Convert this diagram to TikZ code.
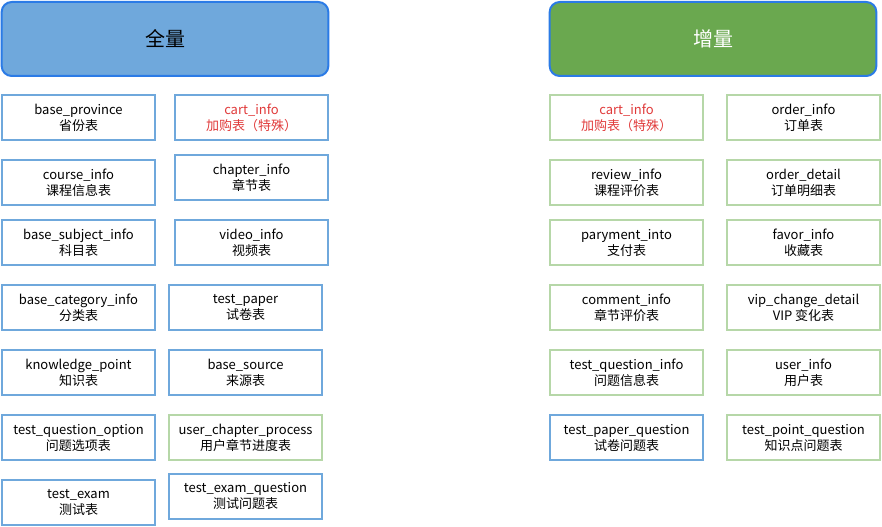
\documentclass[tikz,border=0pt]{standalone}
\usepackage{fontspec}
\setmainfont{Noto Sans CJK SC}
\usepackage{tikz}
\usetikzlibrary{positioning}
\definecolor{fullfill}{HTML}{6FA8DC}
\definecolor{incfill}{HTML}{6AA84F}
\definecolor{headline}{HTML}{2B7BE6}
\definecolor{fullline}{HTML}{6FA8DC}
\definecolor{incline}{HTML}{B6D7A8}
\definecolor{special}{HTML}{E03A3A}
\tikzset{
    head/.style={
           rectangle,
           rounded corners=7.5pt,
           draw=headline, line width=1.5pt,
           minimum width=245pt,
           minimum height=55.5pt,
           font=\fontsize{15}{18}\selectfont,
           },
    tbl/.style={
           rectangle,
           draw=fullline, line width=1.5pt,
           minimum width=114.75pt,
           minimum height=33.75pt,
           inner sep=0pt,
           align=center,
           font=\fontsize{9.75}{12}\selectfont,
           },
    tblinc/.style={tbl, draw=incline},
}

\begin{document}
\begin{tikzpicture}[x=0.75pt,y=-0.75pt]
      \useasboundingbox (0,0) rectangle (882,527);
      % headers
      \node[head,fill=fullfill] (full) at (165,39)  {全量};
      \node[head,fill=incfill,text=white] (inc) at (713,39) {增量};
      % full tables
      \node[tbl] (province)  at (78.5,117.5)  {base\_province\\省份表};
      \node[tbl,text=special] (cart_f) at (251.5,117.5) {cart\_info\\加购表（特殊）};
      \node[tbl] (course)    at (78.5,182.5)  {course\_info\\课程信息表};
      \node[tbl] (chapter)   at (251.5,177.5) {chapter\_info\\章节表};
      \node[tbl] (subject)   at (78.5,242.5)  {base\_subject\_info\\科目表};
      \node[tbl] (video)     at (251.5,242.5) {video\_info\\视频表};
      \node[tbl] (category)  at (78.5,307.5)  {base\_category\_info\\分类表};
      \node[tbl] (paper)     at (245.5,307.5) {test\_paper\\试卷表};
      \node[tbl] (knowledge) at (78.5,372.5)  {knowledge\_point\\知识表};
      \node[tbl] (source)    at (245.5,372.5) {base\_source\\来源表};
      \node[tbl] (option)    at (78.5,437.5)  {test\_question\_option\\问题选项表};
      \node[tblinc] (process) at (245.5,437.5) {user\_chapter\_process\\用户章节进度表};
      \node[tbl] (exam)      at (78.5,502.5)  {test\_exam\\测试表};
      \node[tbl] (exam_q)    at (245.5,496)   {test\_exam\_question\\测试问题表};
      % incremental tables
      \node[tblinc,text=special] (cart_i) at (626.5,117.5) {cart\_info\\加购表（特殊）};
      \node[tblinc] (order)    at (803.5,117.5) {order\_info\\订单表};
      \node[tblinc] (review)   [below=13.5pt of cart_i] {review\_info\\课程评价表};
      \node[tblinc] (detail)   [below=13.5pt of order]  {order\_detail\\订单明细表};
      \node[tblinc] (payment)  at (626.5,242.5) {paryment\_into\\支付表};
      \node[tblinc] (favor)    at (803.5,242.5) {favor\_info\\收藏表};
      \node[tblinc] (comment)  [below=13.5pt of payment] {comment\_info\\章节评价表};
      \node[tblinc] (vip)      [below=13.5pt of favor]   {vip\_change\_detail\\VIP 变化表};
      \node[tblinc] (question) [below=13.5pt of comment] {test\_question\_info\\问题信息表};
      \node[tblinc] (user)     [below=13.5pt of vip]     {user\_info\\用户表};
      \node[tbl] (paper_q)     [below=13.5pt of question] {test\_paper\_question\\试卷问题表};
      \node[tblinc] (point_q)  [below=13.5pt of user]    {test\_point\_question\\知识点问题表};
\end{tikzpicture}
\end{document}
